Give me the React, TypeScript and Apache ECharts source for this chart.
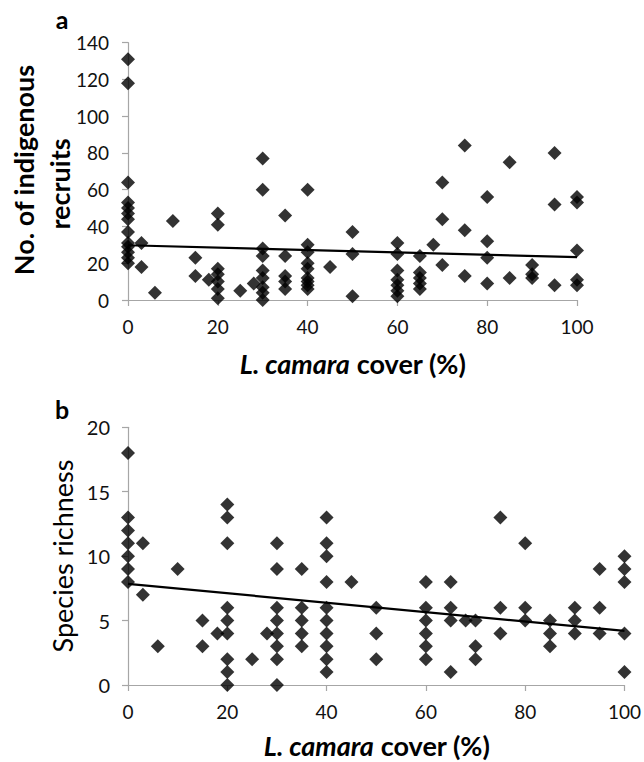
import React, { useEffect, useRef } from "react";
import * as echarts from "echarts";

// Panel a: No. of indigenous recruits vs L. camara cover (%)
const coverLevelsA = [0, 3, 6, 10, 15, 18, 20, 25, 28, 30, 35, 40, 45, 50, 60, 65, 68, 70, 75, 80, 85, 90, 95, 100];
const recruitsA = [
  [131, 118, 64, 53, 50, 47, 44, 37, 31, 29, 26, 23, 20],
  [31, 18],
  [4],
  [43],
  [23, 13],
  [11],
  [47, 41, 17, 14, 10, 6, 1],
  [5],
  [9],
  [77, 60, 28, 24, 16, 12, 7, 4, 0],
  [46, 24, 13, 10, 6],
  [60, 30, 26, 20, 17, 12, 10, 8, 6],
  [18],
  [37, 25, 2],
  [31, 25, 16, 11, 8, 5, 2],
  [24, 15, 12, 9, 6],
  [30],
  [64, 44, 19],
  [84, 38, 13],
  [56, 32, 23, 9],
  [75, 12],
  [19, 14, 12],
  [80, 52, 8],
  [56, 53, 27, 11, 8],
];
const trendA = [[0, 29.8], [100, 23.3]];

// Panel b: Species richness vs L. camara cover (%)
const coverLevelsB = [0, 3, 6, 10, 15, 18, 20, 25, 28, 30, 35, 40, 45, 50, 60, 65, 68, 70, 75, 80, 85, 90, 95, 100];
const richnessB = [
  [18, 13, 12, 11, 10, 9, 8],
  [11, 7],
  [3],
  [9],
  [5, 3],
  [4],
  [14, 13, 11, 6, 5, 4, 2, 1, 0],
  [2],
  [4],
  [11, 9, 6, 5, 4, 3, 2, 0],
  [9, 6, 5, 4, 3],
  [13, 11, 10, 8, 6, 5, 4, 3, 2, 1],
  [8],
  [6, 4, 2],
  [8, 6, 5, 4, 3, 2],
  [8, 6, 5, 1],
  [5],
  [5, 3, 2],
  [13, 6, 4],
  [11, 6, 5],
  [5, 4, 3],
  [6, 5, 4],
  [9, 6, 4],
  [10, 9, 8, 4, 1],
];
const trendB = [[0, 7.85], [100, 4.2]];

const yTicksA = { min: 0, max: 140, interval: 20 };
const yTicksB = { min: 0, max: 20, interval: 5 };
const xTicks = { min: 0, max: 100, interval: 20 };

const FONT = "Lato";
const AXIS_COLOR = "#a6a6a6";
const LABEL_COLOR = "#111";

function flatten(levels: number[], groups: number[][]) {
  const out: number[][] = [];
  levels.forEach((x, i) => groups[i].forEach((y) => out.push([x, y])));
  return out;
}

function axisCommon(fontSize: number, margin: number) {
  return {
    axisLine: { show: true, onZero: false, lineStyle: { color: AXIS_COLOR, width: 1.2 } },
    axisTick: { show: true, inside: false, length: 6, lineStyle: { color: AXIS_COLOR, width: 1.2 } },
    splitLine: { show: false },
    axisLabel: { fontFamily: FONT, fontSize, color: LABEL_COLOR, margin },
  };
}

export default function App() {
  const ref = useRef<HTMLDivElement>(null);
  useEffect(() => {
    if (!ref.current) return;
    const chart = echarts.init(ref.current, undefined, { renderer: "svg" });
    const xName = "{i|L. camara} cover (%)";
    const nameStyle = {
      fontFamily: FONT,
      fontSize: 27,
      fontWeight: "bold",
      fill: "#000",
      align: "center",
      verticalAlign: "middle",
      lineHeight: 28,
    };
    const richI = { i: { fontFamily: FONT, fontSize: 27, fontWeight: "bold", fontStyle: "italic", fill: "#000", lineHeight: 28 } };
    chart.setOption({
      animation: false,
      backgroundColor: "#fff",
      grid: [
        { left: 128, top: 42.7, width: 449, height: 257.3 },
        { left: 128, top: 427.3, width: 497, height: 257.7 },
      ],
      xAxis: [
        { type: "value", gridIndex: 0, ...xTicks, ...axisCommon(19, 17) },
        { type: "value", gridIndex: 1, ...xTicks, ...axisCommon(19, 17) },
      ],
      yAxis: [
        { type: "value", gridIndex: 0, ...yTicksA, ...axisCommon(19, 19) },
        { type: "value", gridIndex: 1, ...yTicksB, ...axisCommon(20, 18) },
      ],
      series: [
        {
          type: "scatter",
          xAxisIndex: 0,
          yAxisIndex: 0,
          data: flatten(coverLevelsA, recruitsA),
          symbol: "diamond",
          symbolSize: 14,
          itemStyle: { color: "#000" },
          clip: false,
        },
        {
          type: "line",
          xAxisIndex: 0,
          yAxisIndex: 0,
          data: trendA,
          symbol: "none",
          lineStyle: { color: "#000", width: 2.2 },
          z: 5,
        },
        {
          type: "scatter",
          xAxisIndex: 1,
          yAxisIndex: 1,
          data: flatten(coverLevelsB, richnessB),
          symbol: "diamond",
          symbolSize: 14,
          itemStyle: { color: "#000" },
          clip: false,
        },
        {
          type: "line",
          xAxisIndex: 1,
          yAxisIndex: 1,
          data: trendB,
          symbol: "none",
          lineStyle: { color: "#000", width: 2.2 },
          z: 5,
        },
      ],
      graphic: [
        { type: "text", x: 62, y: 19, style: { ...nameStyle, text: "a", fontSize: 25 } },
        { type: "text", x: 62, y: 409, style: { ...nameStyle, text: "b", fontSize: 25 } },
        { type: "text", x: 23, y: 170, rotation: Math.PI / 2, style: { ...nameStyle, text: "No. of indigenous" } },
        { type: "text", x: 59, y: 184, rotation: Math.PI / 2, style: { ...nameStyle, text: "recruits" } },
        {
          type: "text",
          x: 62,
          y: 556,
          rotation: Math.PI / 2,
          style: { ...nameStyle, text: "Species richness", fontWeight: "normal" },
        },
        { type: "text", x: 353, y: 363, style: { ...nameStyle, text: xName, rich: richI } },
        { type: "text", x: 377, y: 745, style: { ...nameStyle, text: xName, rich: richI } },
      ],
    });
    return () => chart.dispose();
  }, []);
  return <div ref={ref} style={{ position: "absolute", left: 0, top: 0, width: 644, height: 762 }} />;
}
